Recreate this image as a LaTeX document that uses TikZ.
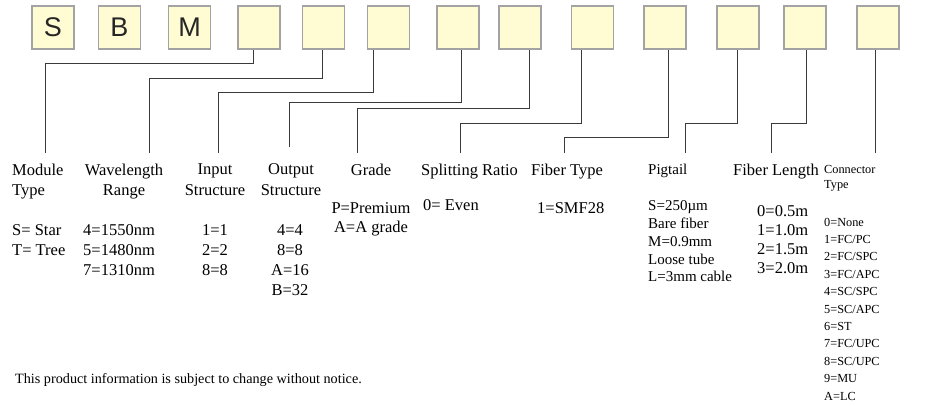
\documentclass[tikz,border=0pt]{standalone}
\usepackage{fontspec}
\setmainfont{Liberation Serif}
\newfontfamily\boxfont{Liberation Sans}
\definecolor{boxfill}{HTML}{FFFBD3}
\definecolor{boxgray}{HTML}{A3A3A3}
\definecolor{leadgray}{HTML}{3A3A3A}
\tikzset{
    codebox/.style={draw=boxgray, fill=boxfill, line width=1.3pt, minimum width=42pt, minimum height=43pt, inner sep=0pt, font=\boxfont\fontsize{27}{27}\selectfont, text=black!85},
    lead/.style={draw=leadgray, line width=1pt},
    head/.style={font=\fontsize{16.5}{20.5}\selectfont, inner sep=0pt},
    vals/.style={font=\fontsize{16.5}{20}\selectfont, inner sep=0pt},
    smallvals/.style={font=\fontsize{15}{17.8}\selectfont, inner sep=0pt, align=left},
    tinyvals/.style={font=\fontsize{12.3}{17.4}\selectfont, inner sep=0pt, align=left}
}

\begin{document}
\begin{tikzpicture}[x=1pt,y=-1pt]
    \useasboundingbox (0,0) rectangle (939,406);
    % code boxes
    \foreach \i/\x/\t in {1/53/S, 2/119.5/B, 3/189.5/M, 4/259/, 5/323.5/, 6/388.5/, 7/458/, 8/520/, 9/592.5/, 10/665/, 11/738/, 12/805/, 13/878/}
        \node[codebox] (b\i) at (\x,27.5) {\t};
    % feet of the leads
    \coordinate (fmod) at (45,153);
    \coordinate (fwave) at (149,153);
    \coordinate (fin) at (218,153);
    \coordinate (fout) at (289,147);
    \coordinate (fgrade) at (357,153);
    \coordinate (fsplit) at (460,153);
    \coordinate (ftype) at (564,153);
    \coordinate (fpig) at (685,153);
    \coordinate (flen) at (771,153);
    \coordinate (fconn) at (875,153);
    \foreach \b/\dx/\k/\f in {4/-6/14/fmod, 5/-1.5/29/fwave, 6/-15.5/43/fin, 7/3/53/fout, 8/9/59/fgrade, 9/-11.5/74/fsplit, 10/3/88/ftype, 11/-1/74/fpig, 12/1/74/flen, 13/-3/74/fconn}
        \draw[lead] ([xshift=\dx]b\b.south) -- ++(0,\k) -| (\f);
    % headings
    \node[head, anchor=north west, align=left] (hmod) at (12,163.6) {Module\\Type};
    \node[head, anchor=north, align=center] (hwave) at (124,163.6) {Wavelength\\Range};
    \node[head, anchor=north, align=center] (hin) at (215,163.6) {Input\\Structure};
    \node[head, anchor=north, align=center] (hout) at (291,163.6) {Output\\Structure};
    \node[head, anchor=north] (hgrade) at (371,163.6) {Grade};
    \node[head, anchor=north west] (hsplit) at (421,163.6) {Splitting Ratio};
    \node[head, anchor=north west] (htype) at (531,163.6) {Fiber Type};
    \node[smallvals, anchor=north west] (hpig) at (648,163.6) {Pigtail};
    \node[head, anchor=north west] (hlen) at (733,163.6) {Fiber Length};
    \node[tinyvals, font=\fontsize{12.3}{15.5}\selectfont, anchor=north west] (hconn) at (824,165) {Connector\\Type};
    % values
    \node[vals, anchor=north west, align=left] (vmod) at (12,224) {S= Star\\T= Tree};
    \node[vals, anchor=north west, align=left] (vwave) at (83,224) {4=1550nm\\5=1480nm\\7=1310nm};
    \node[vals, anchor=north, align=center] (vin) at (215,224) {1=1\\2=2\\8=8};
    \node[vals, anchor=north, align=center] (vout) at (290,224) {4=4\\8=8\\A=16\\B=32};
    \node[vals, font=\fontsize{16.5}{19}\selectfont, anchor=north, align=center] (vgrade) at (371,202) {P=Premium\\A=A grade};
    \node[vals, anchor=north west] (vsplit) at (423,199) {0= Even};
    \node[vals, anchor=north west] (vtype) at (537,202) {1=SMF28};
    \node[smallvals, anchor=north west] (vpig) at (648,200.6) {S=250µm\\Bare fiber\\M=0.9mm\\Loose tube\\L=3mm cable};
    \node[vals, font=\fontsize{16.5}{19}\selectfont, anchor=north west, align=left] (vlen) at (757,205.6) {0=0.5m\\1=1.0m\\2=1.5m\\3=2.0m};
    \node[tinyvals, anchor=north west] (vconn) at (824,217.7) {0=None\\1=FC/PC\\2=FC/SPC\\3=FC/APC\\4=SC/SPC\\5=SC/APC\\6=ST\\7=FC/UPC\\8=SC/UPC\\9=MU\\A=LC};
    \node[font=\fontsize{14.2}{16}\selectfont, inner sep=0pt, anchor=base west] (note) at (15,383) {This product information is subject to change without notice.};
\end{tikzpicture}
\end{document}
